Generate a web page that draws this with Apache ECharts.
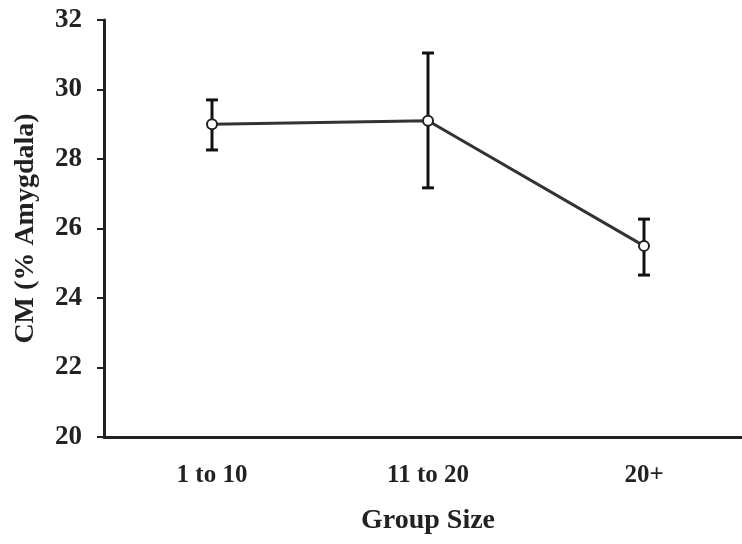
<!DOCTYPE html>
<html>
<head>
<meta charset="utf-8">
<script src="https://cdn.jsdelivr.net/npm/echarts@6/dist/echarts.min.js"></script>
<style>html,body{margin:0;padding:0;background:#fff}#c{width:742px;height:544px}</style>
</head>
<body>
<div id="c"></div>
<script>
const categories = ['1 to 10', '11 to 20', '20+'];
const means = [29.0, 29.1, 25.5];
const upper = [29.7, 31.05, 26.27];
const lower = [28.26, 27.17, 24.66];
const yTicks = [20, 22, 24, 26, 28, 30, 32];

const font = '"Liberation Serif", "Times New Roman", serif';
const chart = echarts.init(document.getElementById('c'));
const errData = categories.map((c, i) => [i, lower[i], upper[i]]);

chart.setOption({
  backgroundColor: '#fff',
  animation: false,
  grid: { left: 104, top: 20, bottom: 107, right: -10, outerBoundsMode: 'none', containLabel: false },
  xAxis: {
    type: 'category',
    data: categories,
    boundaryGap: true,
    name: 'Group Size',
    nameLocation: 'middle',
    nameGap: 70,
    nameTextStyle: { fontFamily: font, fontWeight: 'bold', fontSize: 28, color: '#222' },
    axisLine: { lineStyle: { color: '#222', width: 3 } },
    axisTick: { show: false },
    axisLabel: { fontFamily: font, fontWeight: 'bold', fontSize: 25, color: '#222', margin: 26 },
    splitLine: { show: false }
  },
  yAxis: {
    type: 'value',
    min: yTicks[0],
    max: yTicks[yTicks.length - 1],
    interval: 2,
    name: 'CM (% Amygdala)',
    nameLocation: 'middle',
    nameGap: 64,
    nameTextStyle: { fontFamily: font, fontWeight: 'bold', fontSize: 28, color: '#222' },
    axisLine: { show: true, lineStyle: { color: '#222', width: 3 } },
    axisTick: { show: true, inside: false, length: 7, lineStyle: { color: '#222', width: 2 } },
    axisLabel: { fontFamily: font, fontWeight: 'bold', fontSize: 27, color: '#222', margin: 22 },
    splitLine: { show: false }
  },
  series: [
    {
      type: 'custom',
      z: 1,
      data: errData,
      renderItem: function (params, api) {
        const x = api.value(0);
        const lo = api.coord([x, api.value(1)]);
        const hi = api.coord([x, api.value(2)]);
        const hw = 6;
        const st = { stroke: '#111', lineWidth: 3 };
        return {
          type: 'group',
          children: [
            { type: 'line', shape: { x1: hi[0], y1: hi[1], x2: lo[0], y2: lo[1] }, style: st },
            { type: 'line', shape: { x1: hi[0] - hw, y1: hi[1], x2: hi[0] + hw, y2: hi[1] }, style: st },
            { type: 'line', shape: { x1: lo[0] - hw, y1: lo[1], x2: lo[0] + hw, y2: lo[1] }, style: st }
          ]
        };
      }
    },
    {
      type: 'line',
      z: 3,
      data: means,
      symbol: 'circle',
      symbolSize: 10,
      lineStyle: { color: '#333', width: 3 },
      itemStyle: { color: '#fff', borderColor: '#222', borderWidth: 2 }
    }
  ]
});
</script>
</body>
</html>
